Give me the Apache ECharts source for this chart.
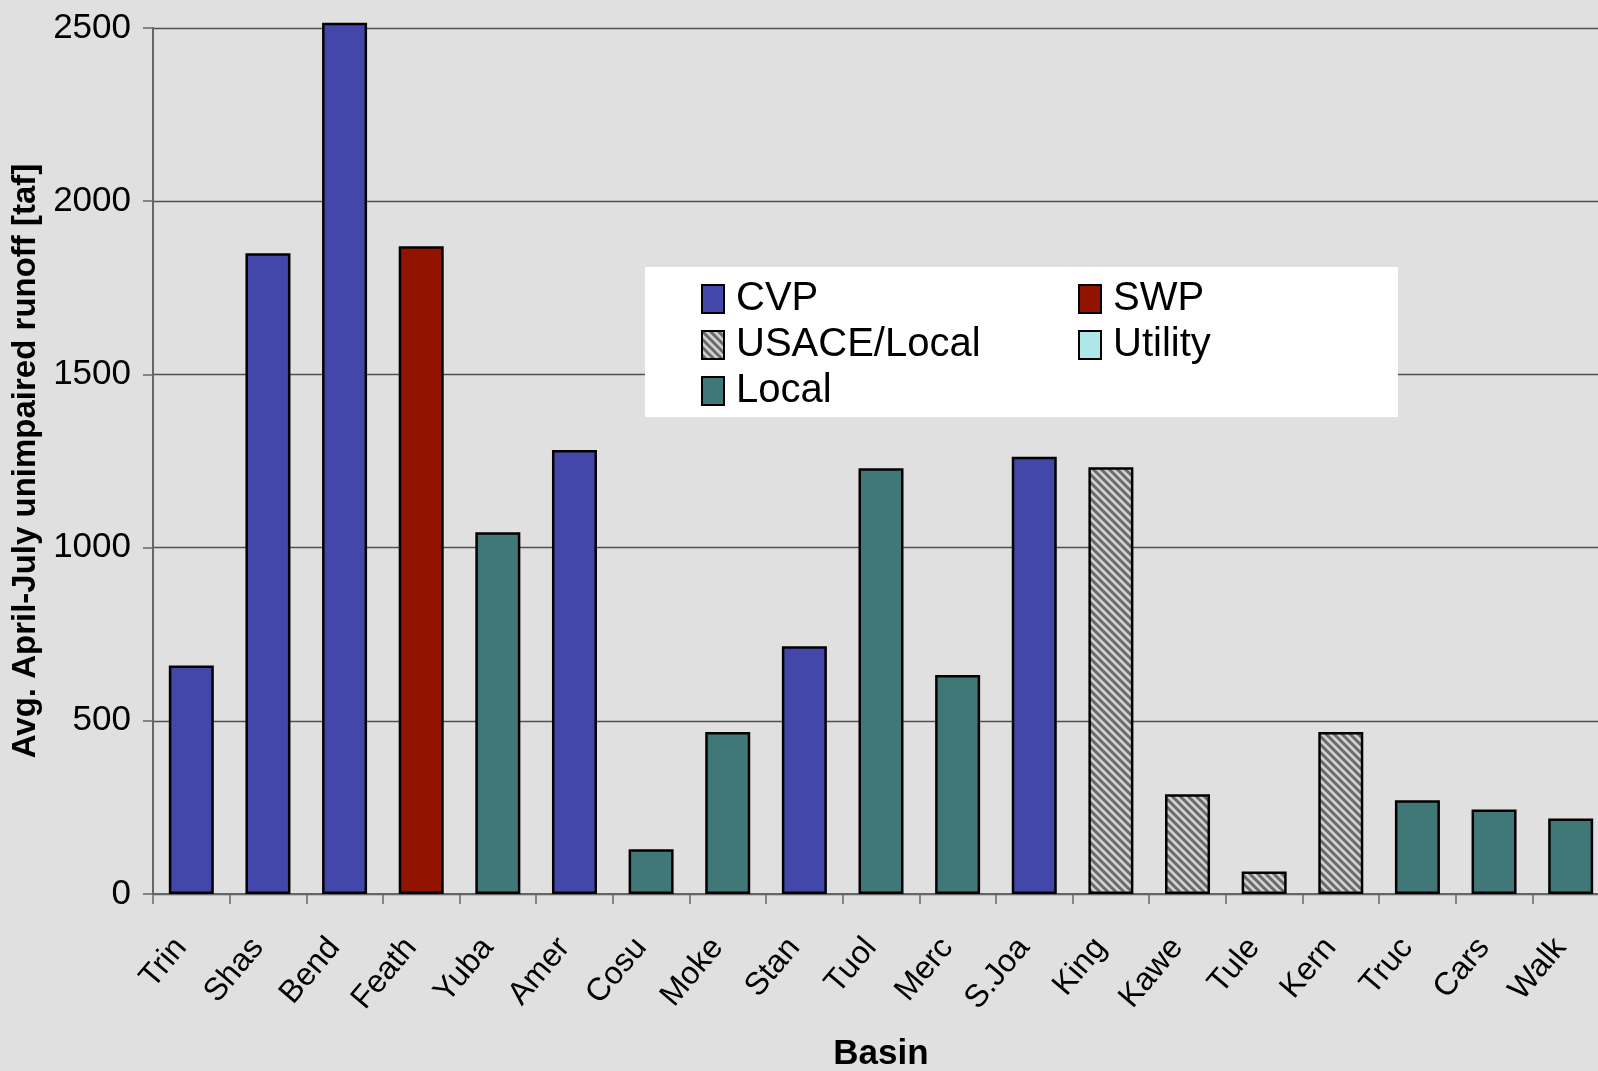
<!DOCTYPE html>
<html>
<head>
<meta charset="utf-8">
<script src="https://cdn.jsdelivr.net/npm/echarts@6/dist/echarts.min.js"></script>
<style>
  html, body { margin: 0; padding: 0; background: #e0e0e0; }
  #chart { width: 1598px; height: 1071px; }
</style>
</head>
<body>
<div id="chart"></div>
<script>
// basins in chart order
const basins = ['Trin', 'Shas', 'Bend', 'Feath', 'Yuba', 'Amer', 'Cosu', 'Moke', 'Stan', 'Tuol',
  'Merc', 'S.Joa', 'King', 'Kawe', 'Tule', 'Kern', 'Truc', 'Cars', 'Walk'];
// avg April-July unimpaired runoff [taf]
const runoff = [660, 1850, 2515, 1870, 1044, 1282, 129, 468, 715, 1229,
  632, 1262, 1232, 288, 65, 468, 271, 244, 218];
// operator of each basin
const owner = ['CVP', 'CVP', 'CVP', 'SWP', 'Local', 'CVP', 'Local', 'Local', 'CVP', 'Local',
  'Local', 'CVP', 'USACE/Local', 'USACE/Local', 'USACE/Local', 'USACE/Local', 'Local', 'Local', 'Local'];
const groups = ['CVP', 'SWP', 'USACE/Local', 'Utility', 'Local'];
const yTicks = [0, 500, 1000, 1500, 2000, 2500];

const sans = "'Liberation Sans', Arial, sans-serif";

// hatched fill for USACE/Local
function hatch() {
  const c = document.createElement('canvas');
  c.width = 8; c.height = 8;
  const ctx = c.getContext('2d');
  ctx.fillStyle = '#d2d2d2';
  ctx.fillRect(0, 0, 8, 8);
  ctx.strokeStyle = '#6a6a6a';
  ctx.lineWidth = 3;
  ctx.beginPath();
  ctx.moveTo(-2, -2); ctx.lineTo(10, 10);
  ctx.moveTo(-10, -2); ctx.lineTo(2, 10);
  ctx.moveTo(6, -2); ctx.lineTo(18, 10);
  ctx.stroke();
  return { image: c, repeat: 'repeat' };
}

const colors = {
  'CVP': '#4347aa',
  'SWP': '#921400',
  'USACE/Local': hatch(),
  'Utility': '#aee7e8',
  'Local': '#3f7877'
};

const series = groups.map(function (g) {
  return {
    name: g,
    type: 'bar',
    stack: 'all',
    barWidth: 45,
    clip: false,
    itemStyle: { color: colors[g], borderColor: '#000', borderWidth: 2.5 },
    data: runoff.map(function (v, i) { return owner[i] === g ? v : '-'; })
  };
});

const chart = echarts.init(document.getElementById('chart'));
chart.setOption({
  backgroundColor: '#e0e0e0',
  animation: false,
  grid: { left: 153, top: 28, width: 1456, height: 866, containLabel: false, outerBoundsMode: 'none' },
  legend: {
    left: 645,
    top: 267,
    width: 570,
    orient: 'horizontal',
    backgroundColor: '#ffffff',
    padding: [12, 135, 6, 56],
    itemWidth: 22,
    itemHeight: 28,
    itemGap: 6,
    icon: 'rect',
    selectedMode: false,
    itemStyle: { borderColor: '#000', borderWidth: 2 },
    textStyle: { fontFamily: sans, fontSize: 40, lineHeight: 40, color: '#000', padding: [0, 0, 0, 7] },
    data: [
      { name: 'CVP', textStyle: { width: 336 } },
      { name: 'SWP', textStyle: { width: 150 } },
      { name: 'USACE/Local', textStyle: { width: 336 } },
      { name: 'Utility', textStyle: { width: 150 } },
      { name: 'Local', textStyle: { width: 336 } }
    ]
  },
  xAxis: {
    type: 'category',
    data: basins,
    name: 'Basin',
    nameLocation: 'middle',
    nameGap: 143,
    nameTextStyle: { fontFamily: sans, fontSize: 35, fontWeight: 'bold', color: '#000' },
    axisLine: { lineStyle: { color: '#666', width: 2 } },
    axisTick: { show: true, length: 10, lineStyle: { color: '#666', width: 1.5 } },
    axisLabel: {
      rotate: 50, margin: 36, interval: 0, padding: [0, 16, 0, 0],
      fontFamily: sans, fontSize: 32, color: '#000'
    }
  },
  yAxis: {
    type: 'value',
    min: 0,
    max: 2500,
    interval: 500,
    name: 'Avg. April-July unimpaired runoff [taf]',
    nameLocation: 'middle',
    nameGap: 88,
    nameTextStyle: { fontFamily: sans, fontSize: 33, fontWeight: 'bold', color: '#000' },
    axisLine: { show: true, lineStyle: { color: '#666', width: 2 } },
    axisTick: { show: true, length: 10, lineStyle: { color: '#666', width: 1.5 } },
    axisLabel: {
      margin: 22, fontFamily: sans, fontSize: 35, color: '#000',
      formatter: function (v) { return yTicks.indexOf(v) >= 0 ? String(v) : ''; }
    },
    splitLine: { lineStyle: { color: '#505050', width: 1.3 } }
  },
  series: series
});
</script>
</body>
</html>
